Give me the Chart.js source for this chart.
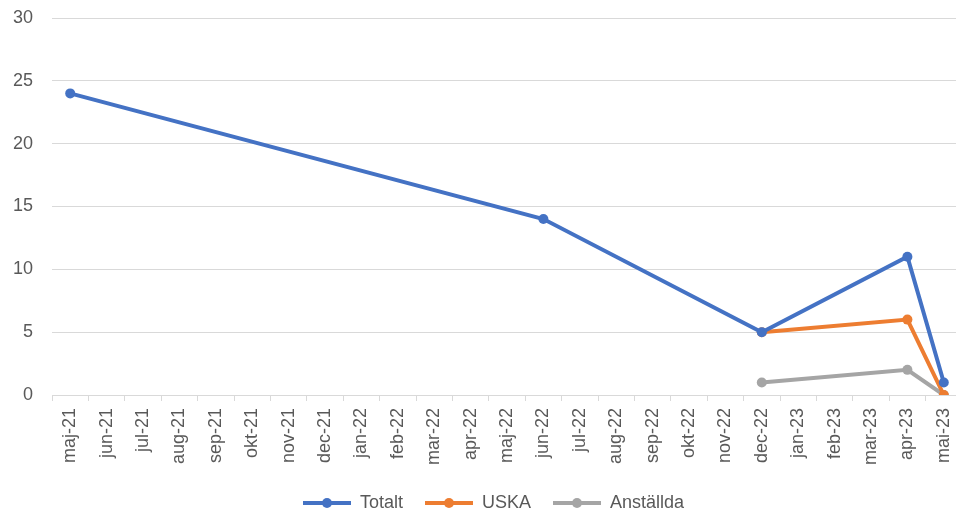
<!DOCTYPE html>
<html><head><meta charset="utf-8">
<script src="https://cdn.jsdelivr.net/npm/chart.js@4"></script>
<style>
html,body{margin:0;padding:0;background:#fff;overflow:hidden;}
#wrap{position:relative;width:967px;height:513px;}
</style></head>
<body><div id="wrap"><canvas id="c"></canvas></div>
<script>
const months = ["maj-21","jun-21","jul-21","aug-21","sep-21","okt-21","nov-21","dec-21","jan-22","feb-22","mar-22","apr-22","maj-22","jun-22","jul-22","aug-22","sep-22","okt-22","nov-22","dec-22","jan-23","feb-23","mar-23","apr-23","mai-23"];
const totalt = [24,null,null,null,null,null,null,null,null,null,null,null,null,14,null,null,null,null,null,5,null,null,null,11,1];
const uska = [null,null,null,null,null,null,null,null,null,null,null,null,null,null,null,null,null,null,null,5,null,null,null,6,0];
const anstallda = [null,null,null,null,null,null,null,null,null,null,null,null,null,null,null,null,null,null,null,1,null,null,null,2,0];
const seriesNames = ["Totalt","USKA","Anställda"];
const colors = ["#4472C4","#ED7D31","#A5A5A5"];

function legendIcon(color){
  const c = document.createElement('canvas');
  c.width = 48; c.height = 12;
  const g = c.getContext('2d');
  g.strokeStyle = color; g.lineWidth = 4; g.lineCap='butt';
  g.beginPath(); g.moveTo(0,6); g.lineTo(48,6); g.stroke();
  g.fillStyle = color; g.beginPath(); g.arc(24,6,5,0,Math.PI*2); g.fill();
  return c;
}
const icons = colors.map(legendIcon);

function ds(label, data, color){
  return {label, data, borderColor: color, backgroundColor: color, borderWidth: 4,
    pointRadius: 5, pointHoverRadius: 5, pointBackgroundColor: color, pointBorderWidth: 0,
    spanGaps: true, tension: 0};
}

const shiftLegend = {
  id: 'shiftLegend',
  afterLayout(chart) {
    if (chart.legend) { chart.legend.left += 10; chart.legend.right += 10; }
  }
};

new Chart(document.getElementById('c'), {
  type: 'line',
  data: {labels: months, datasets: [ds(seriesNames[0], totalt, colors[0]), ds(seriesNames[1], uska, colors[1]), ds(seriesNames[2], anstallda, colors[2])]},
  plugins: [shiftLegend],
  options: {
    responsive: true, maintainAspectRatio: false, animation: false,
    layout: {padding: {top: 18, left: 0, right: 0, bottom: 0}},
    plugins: {
      tooltip: {enabled: false},
      legend: {position: 'bottom', maxHeight: 41,
        labels: {usePointStyle: true, pointStyleWidth: 48, boxHeight: 12, padding: 22,
          color: '#595959', font: {family: 'Liberation Sans, Arial', size: 18},
          generateLabels: (chart) => chart.data.datasets.map((d,i) => ({text: d.label, pointStyle: icons[i], fillStyle: colors[i], strokeStyle: colors[i], lineWidth: 0, datasetIndex: i, fontColor: '#595959'}))
        }}
    },
    scales: {
      x: {offset: true,
        afterFit: (s) => { s.height = 77; s.paddingLeft = 0; s.paddingRight = 0; },
        grid: {offset: true, drawOnChartArea: false, drawTicks: true, tickLength: 6, color: '#d9d9d9'},
        border: {color: '#d9d9d9', width: 1},
        ticks: {autoSkip: false, minRotation: 90, maxRotation: 90, color: '#595959', padding: 7,
          font: {family: 'Liberation Sans, Arial', size: 18}}},
      y: {min: 0, max: 30,
        afterFit: (s) => { s.width = 52; s.paddingTop = 0; s.paddingBottom = 0; },
        ticks: {stepSize: 5, color: '#595959', padding: 19, font: {family: 'Liberation Sans, Arial', size: 18}},
        grid: {color: '#d9d9d9', drawTicks: false},
        border: {display: false}}
    }
  }
});
</script></body></html>
